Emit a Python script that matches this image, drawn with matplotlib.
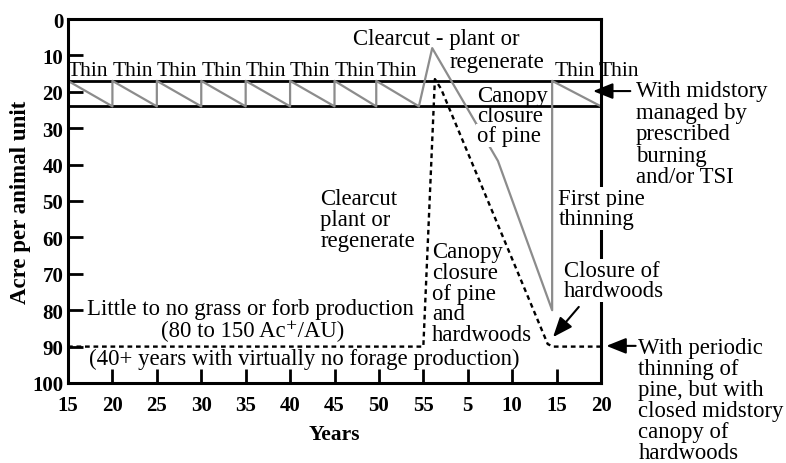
import matplotlib
matplotlib.use("Agg")
import matplotlib.pyplot as plt

plt.rcParams["font.family"] = ["Liberation Serif", "DejaVu Serif"]

# === DATA ===
# x axis runs in stand years; after the clearcut at 55 the labels restart
tick_pos = [15, 20, 25, 30, 35, 40, 45, 50, 55, 60, 65, 70, 75]
tick_labels = ["15", "20", "25", "30", "35", "40", "45", "50", "55",
               "5", "10", "15", "20"]
y_ticks = [0, 10, 20, 30, 40, 50, 60, 70, 80, 90, 100]

# band of acres/AU kept by thinning + burning
band_limits = [17, 24]

# managed stand (gray sawtooth)
managed_x = [15, 20, 20, 25, 25, 30, 30, 35, 35, 40, 40, 45, 45, 49.7, 49.7,
             54.5, 56, 63.4, 69.5, 69.5, 75]
managed_y = [17, 24, 17, 24, 17, 24, 17, 24, 17, 24, 17, 24, 17, 24, 17,
             24, 8, 39, 80, 17, 24]

# unmanaged stand (dotted black)
unmanaged_x = [15, 55, 56.3, 57.0, 69.0, 69.6, 75]
unmanaged_y = [90, 90, 16.5, 19.2, 89.3, 90, 90]

thin_years = [15, 20, 25, 30, 35, 40, 45, 49.7, 69.8, 74.7]

FS = 16.4

fig = plt.figure(figsize=(7.86, 4.64), dpi=100)
ax = fig.add_axes([68 / 786, 1 - 384 / 464, 533 / 786, 364 / 464])

for yb in band_limits:
    ax.axhline(yb, color="black", lw=2, zorder=2)
ax.plot(managed_x, managed_y, color="#8c8c8c", lw=1.6, zorder=2.2)
ax.plot(unmanaged_x, unmanaged_y, color="black", lw=1.7,
        linestyle=(0, (2.0, 1.6)), zorder=2.1)

ax.set_xlim(15, 75)
ax.set_ylim(100, 0)
ax.set_xticks(tick_pos, tick_labels)
ax.set_yticks(y_ticks)
ax.tick_params(axis="both", direction="in", width=2, labelsize=15)
ax.tick_params(axis="y", length=10.5, pad=3.5)
ax.tick_params(axis="x", length=10, pad=9)
for lab in ax.get_xticklabels() + ax.get_yticklabels():
    lab.set_fontweight("bold")
for sp in ax.spines.values():
    sp.set_linewidth(2.2)

ax.set_xlabel("Years", fontsize=15.5, fontweight="bold", labelpad=6)
ax.set_ylabel("Acre per animal unit", fontsize=16.5, fontweight="bold",
              labelpad=0.5)

WHITE = dict(facecolor="white", edgecolor="none", pad=0.6)


def block(x, y0, lines, step=5.6, boxed=(), **kw):
    for i, s in enumerate(lines):
        extra = {"bbox": WHITE} if i in boxed else {}
        ax.text(x, y0 + i * step, s, ha="left", va="baseline",
                fontsize=FS, **extra, **kw)


for tx in thin_years:
    ax.text(tx, 15.4, "Thin", ha="left", va="baseline", fontsize=15.5)

ax.text(47.1, 6.9, "Clearcut - plant or", ha="left", va="baseline", fontsize=FS)
ax.text(57.9, 13.2, "regenerate", ha="left", va="baseline", fontsize=FS)

block(61.0, 22.5, ["Canopy", "closure", "of pine"], step=5.5, boxed=(2,))
block(78.9, 21.2, ["With midstory", "managed by", "prescribed", "burning",
                   "and/or TSI"], step=5.9)
block(70.2, 50.8, ["First pine", "thinning"], step=5.5, boxed=(0, 1))
block(43.4, 50.8, ["Clearcut", "plant or", "regenerate"], step=5.8)
block(56.0, 65.4, ["Canopy", "closure", "of pine", "and", "hardwoods"],
      step=5.7)
block(70.8, 70.6, ["Closure of", "hardwoods"], step=5.5, boxed=(0, 1))
block(79.2, 91.8, ["With periodic", "thinning of", "pine, but with",
                   "closed midstory", "canopy of", "hardwoods"], step=5.75)

ax.text(17.1, 81.0, "Little to no grass or forb production", ha="left",
        va="baseline", fontsize=FS)
ax.text(35.8, 87.1, "(80 to 150 Ac\u207a/AU)", ha="center", va="baseline",
        fontsize=FS)
ax.text(17.4, 94.8, "(40+ years with virtually no forage production)",
        ha="left", va="baseline", fontsize=FS)

arrow = dict(arrowstyle="-|>,head_length=1.0,head_width=0.4",
             color="black", lw=1.5, mutation_scale=12, shrinkA=0, shrinkB=0)
ax.annotate("", xy=(74.1, 19.8), xytext=(78.3, 19.8), arrowprops=arrow,
            annotation_clip=False)
ax.annotate("", xy=(69.6, 87.4), xytext=(72.5, 79.1), arrowprops=arrow,
            annotation_clip=False)
ax.annotate("", xy=(75.6, 89.8), xytext=(78.9, 89.8), arrowprops=arrow,
            annotation_clip=False)

fig.savefig("out.png", dpi=100)
